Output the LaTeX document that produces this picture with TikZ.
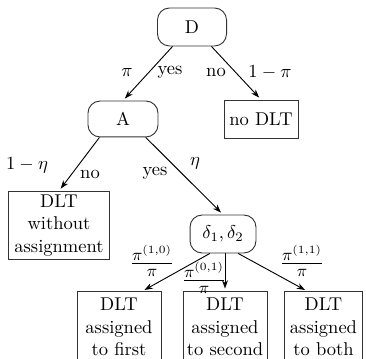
\documentclass[tikz,border=0pt]{standalone}
\usetikzlibrary{arrows.meta,calc}
\begin{document}
\begin{tikzpicture}[x=0.54pt,y=-0.54pt,
  dnode/.style={draw=black!80,line width=0.5pt,rounded corners=6.5pt,minimum height=20.5pt,inner sep=2pt},
  leaf/.style={draw=black!80,line width=0.5pt,align=center,inner sep=2pt},
  arr/.style={-{Stealth[length=4.5pt,width=3.2pt]},line width=0.5pt,shorten >=1.5pt},
  lab/.style={inner sep=0pt},
  frl/.style={inner sep=0pt,font=\fontsize{12.5}{15}\selectfont}]
\useasboundingbox (0,0) rectangle (366,359);
\node[dnode,minimum width=37.3pt] (D) at (192,27) {D};
\node[dnode,minimum width=37.8pt,minimum height=19.4pt] (A) at (123,119) {A};
\node[leaf,minimum width=40pt,minimum height=20.5pt] (N) at (261,119) {no DLT};
\node[leaf,minimum width=55pt,minimum height=35pt] (W) at (59,225.5) {DLT\\without\\assignment};
\node[dnode,minimum width=35.6pt] (dd) at (223,234) {$\delta_1,\delta_2$};
\node[leaf,minimum width=45.4pt,minimum height=38pt] (B1) at (119,327) {DLT\\assigned\\to first};
\node[leaf,minimum width=45.4pt,minimum height=38pt] (B2) at (225,327) {DLT\\assigned\\to second};
\node[leaf,minimum width=42.6pt,minimum height=38pt] (B3) at (323.5,327) {DLT\\assigned\\to both};

\draw[arr] (D.-135) -- (A.north);
\draw[arr] (D.-45) -- (N.north);
\draw[arr] (A.-142) -- (W.north);
\draw[arr] (A.-39) -- (dd.north);
\draw[arr] (dd.-124) -- ($(B1.north)+(23,0)$);
\draw[arr] (B2.north |- dd.south) -- (B2.north);
\draw[arr] (dd.-52) -- ($(B3.north)+(-16,0)$);

\node[lab] (l1) at (127,73) {$\pi$};
\node[lab] (l2) at (170,72) {yes};
\node[lab] (l3) at (216,72) {no};
\node[lab] (l4) at (270,72) {$1-\pi$};
\node[lab] (l5) at (27,165) {$1-\eta$};
\node[lab] (l6) at (90,174) {no};
\node[lab] (l7) at (155,173) {yes};
\node[lab] (l8) at (195,163) {$\eta$};
\node[frl] (l9) at (152,261) {$\frac{\pi^{(1,0)}}{\pi}$};
\node[frl] (l10) at (204,278) {$\frac{\pi^{(0,1)}}{\pi}$};
\node[frl] (l11) at (302,261) {$\frac{\pi^{(1,1)}}{\pi}$};
\end{tikzpicture}
\end{document}
